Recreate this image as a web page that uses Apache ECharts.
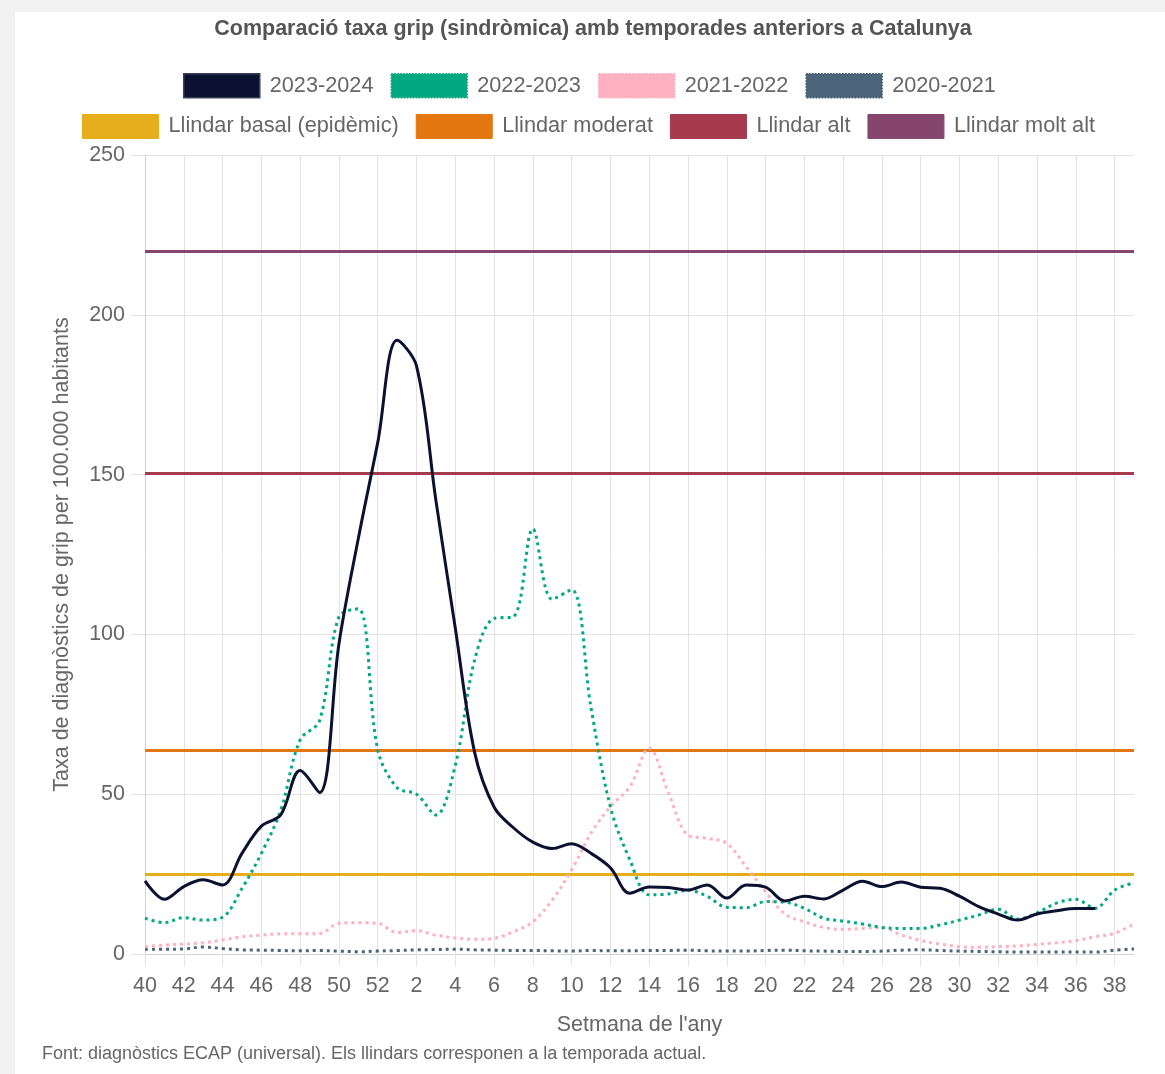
<!DOCTYPE html>
<html>
<head>
<meta charset="utf-8">
<script src="https://cdn.jsdelivr.net/npm/echarts@6/dist/echarts.min.js"></script>
<style>
  html, body { margin: 0; padding: 0; background: #f1f1f1; }
  #card { position: absolute; left: 15px; top: 12px; right: 0; bottom: 0; background: #ffffff; }
  #chart { position: absolute; left: 0; top: 0; width: 1165px; height: 1074px; }
</style>
</head>
<body>
<div id="card"></div>
<div id="chart"></div>
<script>
// Weeks of the season (x categories)
const weeks = [40,41,42,43,44,45,46,47,48,49,50,51,52,1,2,3,4,5,6,7,8,9,10,11,12,13,14,15,16,17,18,19,20,21,22,23,24,25,26,27,28,29,30,31,32,33,34,35,36,37,38,39];

// Season series (rate per 100.000 inhabitants)
const s2023_2024 = [22.9,17.1,21.1,23.2,21.6,31.5,40.0,43.5,57.4,50.5,97,130,160,192,184,142,102,63,46,39.5,35,33,34.5,31.5,27,19,21,20.8,20,21.6,17.5,21.6,20.9,16.6,18.1,17.2,20,22.8,21.1,22.5,20.9,20.6,18.1,14.8,12.5,10.6,12.5,13.5,14.2,14.2];
const s2022_2023 = [11.2,9.8,11.4,10.6,11.5,20.5,31.5,45,67,73,105.5,108,64,52,50,43.5,59,92,105,105.5,133,111,114,77,46,29.5,18.5,18.8,20,18,14.6,14.5,16.4,16.2,14.3,11.2,10.3,9.4,8.3,8,8,9.1,10.6,12.2,14,10.9,12.9,15.9,17.1,14.3,20,22.3];
const s2021_2022 = [2.3,2.8,3.1,3.5,4.4,5.4,5.9,6.3,6.3,6.4,9.6,9.8,9.6,6.7,7.3,5.9,5.0,4.6,4.9,7.0,10.1,16.9,26.3,37.8,46.1,52.3,64.4,50.3,37.2,36.2,34.6,27.3,19.5,12.5,10.1,8.3,7.7,8.0,8.3,5.9,4.2,3.1,2.3,2.1,2.3,2.5,3.0,3.5,4.2,5.4,6.5,9.4];
const s2020_2021 = [1.5,1.5,1.6,2.2,1.7,1.3,1.2,1.1,1.0,1.1,0.9,0.7,0.9,1.1,1.3,1.4,1.5,1.3,1.2,1.1,1.1,1.0,0.9,1.1,1.0,1.0,1.1,1.1,1.2,1.0,0.9,0.9,1.1,1.2,1.0,0.9,0.8,0.8,0.9,1.2,1.3,1.1,0.9,0.8,0.7,0.6,0.6,0.6,0.6,0.6,1.2,1.6];

// Thresholds (current season)
const thresholdNames = ['Llindar basal (epidèmic)','Llindar moderat','Llindar alt','Llindar molt alt'];
const thresholdValues = [24.9, 63.7, 150.4, 219.8];

// Y axis ticks
const yTicks = [0, 50, 100, 150, 200, 250];

const seasonNames = ['2023-2024','2022-2023','2021-2022','2020-2021'];
const seasonData = [s2023_2024, s2022_2023, s2021_2022, s2020_2021];
const seasonColors = ['#0b1130','#00a982','#ffb0c1','#4b6479'];
const seasonBorder = ['#3a3f55','#16a37c','#f7a6b8','#3d5468'];
const seasonDotted = [false, true, true, true];
const thresholdColors = ['#e6ae1a','#e4770f','#a63a4f','#86456c'];

const FONT = 'Liberation Sans, Arial, sans-serif';
const chart = echarts.init(document.getElementById('chart'), null, {renderer: 'canvas'});

const series = [];
seasonNames.forEach((n, i) => {
  series.push({
    name: n, type: 'line', data: seasonData[i], smooth: 0.35,
    showSymbol: false, symbol: 'none', color: seasonColors[i],
    z: 10 - i,
    lineStyle: { color: seasonColors[i], width: 3, type: seasonDotted[i] ? [3, 4] : 'solid', cap: 'butt' }
  });
});
thresholdNames.forEach((n, i) => {
  series.push({
    name: n, type: 'line', data: [], color: thresholdColors[i], symbol: 'none',
    markLine: {
      silent: true, symbol: ['none','none'], label: {show: false},
      lineStyle: { color: thresholdColors[i], width: 3, type: 'solid' },
      data: [{ yAxis: thresholdValues[i] }]
    }
  });
});

const legendText = { color: '#666', fontSize: 21.7, fontFamily: FONT, padding: [0,0,0,5] };

chart.setOption({
  animation: false,
  backgroundColor: 'transparent',
  title: {
    text: 'Comparació taxa grip (sindròmica) amb temporades anteriors a Catalunya',
    left: 588, top: 13, textAlign: 'center',
    textStyle: { color: '#555', fontSize: 21.5, fontWeight: 'bold', fontFamily: FONT }
  },
  legend: [
    {
      left: 183, top: 73, padding: 0, itemWidth: 76, itemHeight: 24, itemGap: 17,
      icon: 'rect', textStyle: legendText, selectedMode: false,
      data: seasonNames.map((n, i) => ({
        name: n,
        itemStyle: { color: seasonColors[i], borderColor: seasonBorder[i], borderWidth: 1.5, borderType: seasonDotted[i] ? 'dotted' : 'solid' }
      }))
    },
    {
      left: 82, top: 114, padding: 0, itemWidth: 76, itemHeight: 24, itemGap: 17,
      icon: 'rect', textStyle: legendText, selectedMode: false,
      data: thresholdNames.map((n, i) => ({
        name: n,
        itemStyle: { color: thresholdColors[i], borderColor: thresholdColors[i], borderWidth: 1 }
      }))
    }
  ],
  grid: { left: 145, right: 31, top: 155, bottom: 120, containLabel: false },
  xAxis: {
    type: 'category', data: weeks, boundaryGap: false,
    name: "Setmana de l'any", nameLocation: 'middle', nameGap: 60,
    nameTextStyle: { color: '#666', fontSize: 21.5, fontFamily: FONT },
    axisLine: { show: true, lineStyle: { color: '#d2d2d2', width: 1 } },
    axisTick: { show: true, interval: 1, length: 12, lineStyle: { color: '#e3e3e3' } },
    axisLabel: { interval: 1, color: '#666', fontSize: 21.5, margin: 21, fontFamily: FONT },
    splitLine: { show: true, interval: 1, lineStyle: { color: '#e3e3e3', width: 1 } }
  },
  yAxis: {
    type: 'value', min: yTicks[0], max: yTicks[yTicks.length - 1], interval: 50,
    name: 'Taxa de diagnòstics de grip per 100.000 habitants', nameLocation: 'middle', nameGap: 72, nameRotate: 90,
    nameTextStyle: { color: '#666', fontSize: 21.5, fontFamily: FONT },
    axisLine: { show: true, lineStyle: { color: '#d2d2d2', width: 1 } },
    axisTick: { show: true, length: 13, lineStyle: { color: '#e3e3e3' } },
    axisLabel: { color: '#666', fontSize: 21.5, margin: 20, fontFamily: FONT },
    splitLine: { show: true, lineStyle: { color: '#e3e3e3', width: 1 } }
  },
  graphic: [{
    type: 'text', left: 42, top: 1045,
    style: { text: 'Font: diagnòstics ECAP (universal). Els llindars corresponen a la temporada actual.', fill: '#666', fontSize: 18, fontFamily: FONT }
  }],
  series: series
});
</script>
</body>
</html>
